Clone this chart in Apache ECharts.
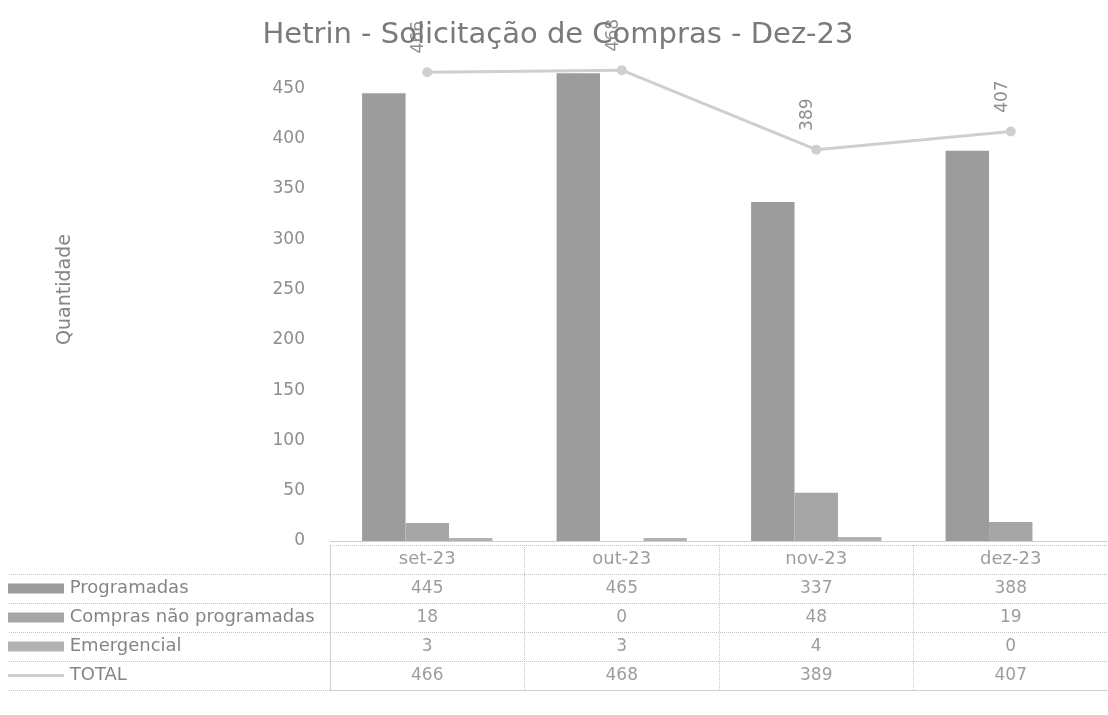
<!DOCTYPE html>
<html>
<head>
<meta charset="utf-8">
<script src="https://cdn.jsdelivr.net/npm/echarts@6/dist/echarts.min.js"></script>
<style>
  html, body { margin: 0; padding: 0; background: #fff; }
  #chart { width: 1108px; height: 715px; }
</style>
</head>
<body>
<div id="chart"></div>
<script>
// Monthly purchase requests by type
const categories = ['set-23', 'out-23', 'nov-23', 'dez-23'];
const programadas = [445, 465, 337, 388];
const naoProgramadas = [18, 0, 48, 19];
const emergencial = [3, 3, 4, 0];
const total = [466, 468, 389, 407];
const rowNames = ['Programadas', 'Compras não programadas', 'Emergencial', 'TOTAL'];
const yTicks = [0, 50, 100, 150, 200, 250, 300, 350, 400, 450];

const FONT = '"DejaVu Sans", sans-serif';
const TXT = '#858585';
const colors = ['#9c9c9c', '#a6a6a6', '#b2b2b2', '#cfcfcf'];
const rows = [programadas, naoProgramadas, emergencial, total];
const dotted = { color: '#c4c4c4', type: 'dotted', width: 1 };

// cell labels for the data table under the plot
const headerCells = categories.map((c, i) => ({ value: [i, ''], label: { formatter: c, fontSize: 18 } }));
const valueCells = [];
rows.forEach((arr, r) => arr.forEach((v, i) => valueCells.push({ value: [i, rowNames[r]], label: { formatter: String(v) } })));

const chart = echarts.init(document.getElementById('chart'));
chart.setOption({
  animation: false,
  title: {
    text: 'Hetrin - Solicitação de Compras - Dez-23',
    left: 553, top: 16, textAlign: 'center',
    textStyle: { fontFamily: FONT, fontSize: 29, fontWeight: 'normal', color: '#7a7a7a' }
  },
  grid: [
    { left: 330, right: 0, top: 38, bottom: 174 },
    { left: 330, right: 0, top: 545, bottom: 25 }
  ],
  xAxis: [
    {
      type: 'category', data: categories, gridIndex: 0,
      axisLine: { lineStyle: dotted }, axisTick: { show: false },
      axisLabel: { show: false }
    },
    {
      type: 'category', data: categories, gridIndex: 1,
      axisLine: { show: true, lineStyle: dotted }, axisTick: { show: false },
      axisLabel: { show: false },
      splitLine: { show: true, lineStyle: dotted }
    }
  ],
  yAxis: [
    {
      type: 'value', gridIndex: 0, min: 0, max: 500, interval: 50,
      name: 'Quantidade', nameLocation: 'middle', nameGap: 255,
      nameTextStyle: { fontFamily: FONT, fontSize: 19, color: TXT },
      axisLine: { show: false }, axisTick: { show: false },
      splitLine: { show: false },
      axisLabel: {
        margin: 25, fontFamily: FONT, fontSize: 17, color: '#8e8e8e',
        formatter: v => (yTicks.indexOf(v) >= 0 ? String(v) : '')
      }
    },
    {
      type: 'category', gridIndex: 1, inverse: true,
      data: [''].concat(rowNames),
      axisLine: { show: true, lineStyle: dotted },
      axisTick: {
        show: true, length: 322, lineStyle: dotted,
        interval: (i) => i > 0
      },
      splitLine: { show: true, lineStyle: dotted },
      axisLabel: {
        align: 'left', margin: 322, fontFamily: FONT, fontSize: 18, color: TXT,
        formatter: (v) => {
          const k = rowNames.indexOf(v);
          if (k < 0) return '';
          return (k === 3 ? '{l|}' : '{s' + k + '|}') + ' ' + v;
        },
        rich: {
          s0: { width: 56, height: 10, backgroundColor: colors[0] },
          s1: { width: 56, height: 10, backgroundColor: colors[1] },
          s2: { width: 56, height: 10, backgroundColor: colors[2] },
          l: { width: 56, height: 3, backgroundColor: colors[3] }
        }
      }
    }
  ],
  series: [
    {
      name: rowNames[0], type: 'bar', data: programadas,
      barGap: '0%', barCategoryGap: '33%', itemStyle: { color: colors[0] }
    },
    { name: rowNames[1], type: 'bar', data: naoProgramadas, itemStyle: { color: colors[1] } },
    { name: rowNames[2], type: 'bar', data: emergencial, itemStyle: { color: colors[2] } },
    {
      name: rowNames[3], type: 'line', data: total,
      symbol: 'circle', symbolSize: 10,
      lineStyle: { color: colors[3], width: 3 }, itemStyle: { color: colors[3] },
      label: {
        show: true, position: 'top', rotate: 90, distance: 30,
        fontFamily: FONT, fontSize: 17, color: '#8e8e8e'
      }
    },
    {
      type: 'scatter', xAxisIndex: 1, yAxisIndex: 1, symbolSize: 0,
      data: headerCells.concat(valueCells), silent: true,
      label: { show: true, position: 'inside', fontFamily: FONT, fontSize: 17, color: TXT }
    }
  ]
});
</script>
</body>
</html>
